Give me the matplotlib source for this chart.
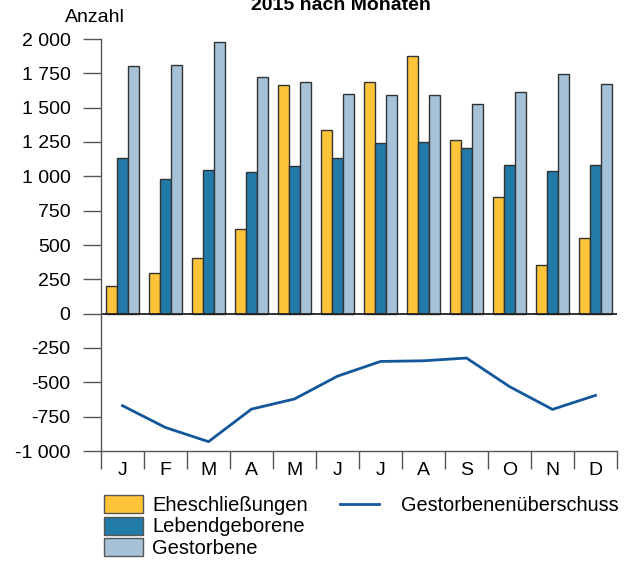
"""Eheschliessungen, Geburten und Sterbefaelle 2015 nach Monaten."""

import numpy as np
from matplotlib import pyplot as plt
from matplotlib.patches import Patch
from matplotlib.lines import Line2D
from matplotlib.ticker import FixedLocator

#--------------------------------------------------------------------------
MONATE = ["J", "F", "M", "A", "M", "J", "J", "A", "S", "O", "N", "D"]
EHESCHLIESSUNGEN = [199, 299, 408, 615, 1665, 1337, 1689, 1874, 1261, 853, 357, 554]
LEBENDGEBORENE = [1137, 982, 1045, 1030, 1074, 1137, 1244, 1247, 1203, 1081, 1042, 1079]
GESTORBENE = [1806, 1810, 1976, 1723, 1689, 1597, 1592, 1592, 1528, 1611, 1742, 1674]
UEBERSCHUSS = [-670, -829, -932, -695, -621, -455, -348, -343, -323, -531, -697, -595]
Y_TICKS = [2000, 1750, 1500, 1250, 1000, 750, 500, 250, 0, -250, -500, -750, -1000]
#--------------------------------------------------------------------------

GELB = "#FDC43A"
BLAU = "#217AA8"
HELLBLAU = "#A5C2D8"
LINIE = "#13579B"
RAND = "#333333"

plt.rcParams['font.family'] = ['Liberation Sans', 'DejaVu Sans']
plt.rcParams['font.size'] = 14


def fmt(v):
    s = "{:,}".format(v).replace(",", " ")
    return s


def main():
    fig = plt.figure(figsize=(6.35, 5.63), dpi=100)
    ax = fig.add_axes([101 / 635, 112 / 563, 516 / 635, 412 / 563])

    x = np.arange(len(MONATE))
    w = 0.263
    ax.bar(x - w, EHESCHLIESSUNGEN, w, color=GELB, edgecolor=RAND, linewidth=1)
    ax.bar(x, LEBENDGEBORENE, w, color=BLAU, edgecolor=RAND, linewidth=1)
    ax.bar(x + w, GESTORBENE, w, color=HELLBLAU, edgecolor=RAND, linewidth=1)
    ax.plot(x, UEBERSCHUSS, color=LINIE, linewidth=2)
    ax.axhline(0, color="#222222", linewidth=1.3)

    ax.set_xlim(-0.5, 11.5)
    ax.set_ylim(-1000, 2000)
    ax.set_yticks(Y_TICKS)
    ax.set_yticklabels([fmt(v) for v in Y_TICKS])
    ax.set_xticks(x)
    ax.set_xticklabels(MONATE)
    ax.xaxis.set_minor_locator(FixedLocator(np.arange(-0.5, 12, 1)))
    ax.tick_params(axis='x', which='major', length=0, pad=8)
    ax.tick_params(axis='x', which='minor', length=13, width=1, color="#555555")
    ax.tick_params(axis='y', length=13, width=1, color="#555555", pad=9)

    for s in ["top", "right"]:
        ax.spines[s].set_visible(False)
    for s in ["left", "bottom"]:
        ax.spines[s].set_color("#555555")
        ax.spines[s].set_linewidth(1)

    fig.text(0.537, 1 - 10 / 563, "2015 nach Monaten", ha='center', va='baseline',
             fontweight='bold', fontsize=14)
    fig.text(0.150, 1 - 17 / 563, "Anzahl", ha='center', va='center')

    h1 = [Patch(facecolor=GELB, edgecolor="#555555"),
          Patch(facecolor=BLAU, edgecolor="#555555"),
          Patch(facecolor=HELLBLAU, edgecolor="#555555")]
    fig.legend(h1, ["Eheschließungen", "Lebendgeborene", "Gestorbene"],
               loc='upper left', bbox_to_anchor=(104 / 635, 1 - 495 / 563),
               frameon=False, handlelength=1.95, handleheight=1.0, fontsize=14.5,
               labelspacing=0.08, handletextpad=0.45, borderpad=0, borderaxespad=0)
    h2 = [Line2D([0], [0], color=LINIE, linewidth=2)]
    fig.legend(h2, ["Gestorbenenüberschuss"], loc='upper left',
               bbox_to_anchor=(340 / 635, 1 - 496 / 563), frameon=False, fontsize=14.3,
               handlelength=1.95, handletextpad=1.1, borderpad=0, borderaxespad=0)

    fig.savefig("out.png", dpi=100)


if __name__ == '__main__':
    main()
